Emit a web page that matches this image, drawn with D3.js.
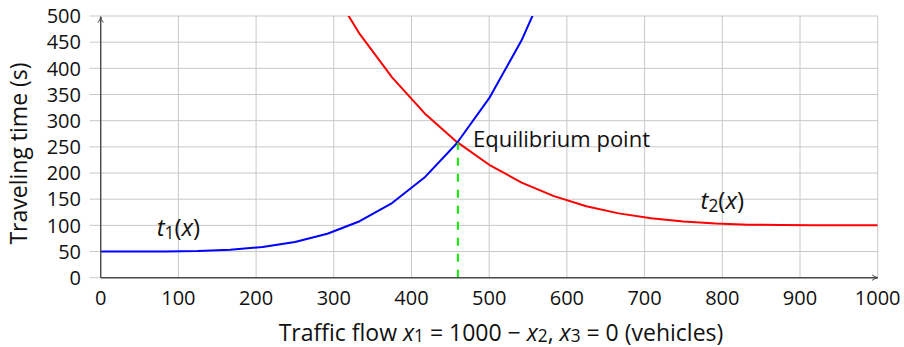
<!DOCTYPE html>
<html>
<head>
<meta charset="utf-8">
<script src="https://cdn.jsdelivr.net/npm/d3@7"></script>
<style>
  html, body { margin: 0; padding: 0; background: #fff; }
  svg { display: block; font-family: "Open Sans", "Lato", sans-serif; }
</style>
</head>
<body>
<svg id="chart" width="904" height="347"></svg>
<script>
// ---- data ----
const xSamples = [0, 41.7, 83.3, 125, 166.7, 208.3, 250, 291.7, 333.3, 375, 416.7, 458.3,
                  500, 541.7, 583.3, 625, 666.7, 708.3, 750, 791.7, 833.3, 875, 916.7, 958.3, 1000];
// t1(x): blue curve (values beyond the top of the plot are clipped)
const t1Values = [50, 50, 50.2, 51.1, 53.6, 58.8, 68.3, 83.9, 107.9, 142.7, 191.3, 256.9,
                  343, 453.5, 592.8, null, null, null, null, null, null, null, null, null, null];
// t2(x): red curve
const t2Values = [null, null, null, null, null, null, 685.9, 566.2, 465.8, 382.6, 314.4, 259.4,
                  215.7, 181.7, 155.8, 136.6, 122.9, 113.4, 107.2, 103.5, 101.4, 100.5, 100.1, 100, 100];
const equilibrium = { x: 459.7, y: 258 };
const xTicks = [0, 100, 200, 300, 400, 500, 600, 700, 800, 900, 1000];
const yTicks = [0, 50, 100, 150, 200, 250, 300, 350, 400, 450, 500];

// ---- layout ----
const svg = d3.select("#chart");
const pLeft = 100.7, pRight = 877.7, pTop = 16, pBottom = 277.7;
const x = d3.scaleLinear().domain([0, 1000]).range([pLeft, pRight]);
const y = d3.scaleLinear().domain([0, 500]).range([pBottom, pTop]);

const axisColor = "#4a4a4a";
const gridColor = "#c8c8c8";

const defs = svg.append("defs");
defs.append("clipPath").attr("id", "plotclip")
  .append("rect").attr("x", pLeft).attr("y", pTop).attr("width", pRight - pLeft).attr("height", pBottom - pTop);

defs.append("marker").attr("id", "arrow")
  .attr("viewBox", "0 0 10 10").attr("refX", 9).attr("refY", 5)
  .attr("markerWidth", 7).attr("markerHeight", 7).attr("markerUnits", "userSpaceOnUse")
  .attr("orient", "auto")
  .append("path").attr("d", "M1,1.2 Q5,4.2 9.5,5 Q5,5.8 1,8.8")
  .attr("fill", "none").attr("stroke", axisColor).attr("stroke-width", 1.4);

// grid
const gx = svg.append("g");
gx.selectAll("line.h").data(yTicks).join("line").attr("class", "h")
  .attr("x1", pLeft - 11).attr("x2", pRight)
  .attr("y1", d => y(d)).attr("y2", d => y(d))
  .attr("stroke", gridColor).attr("stroke-width", 1);
gx.selectAll("line.v").data(xTicks).join("line").attr("class", "v")
  .attr("x1", d => x(d)).attr("x2", d => x(d))
  .attr("y1", pTop).attr("y2", pBottom)
  .attr("stroke", gridColor).attr("stroke-width", 1);

// tick labels
svg.append("g").selectAll("text").data(yTicks).join("text")
  .attr("x", 81).attr("y", d => y(d)).attr("dy", "0.36em")
  .attr("text-anchor", "end").attr("font-size", 20).attr("fill", "#111")
  .text(d => d);
svg.append("g").selectAll("text").data(xTicks).join("text")
  .attr("x", d => x(d)).attr("y", 305)
  .attr("text-anchor", "middle").attr("font-size", 20).attr("fill", "#111")
  .text(d => d);

// curves
const plot = svg.append("g").attr("clip-path", "url(#plotclip)");
const lineGen = vals => d3.line()
  .defined((d, i) => vals[i] !== null)
  .x((d, i) => x(xSamples[i]))
  .y((d, i) => y(vals[i]))(xSamples);

svg.append("line")
  .attr("x1", x(equilibrium.x)).attr("x2", x(equilibrium.x))
  .attr("y1", y(0)).attr("y2", y(equilibrium.y))
  .attr("stroke", "#00f000").attr("stroke-width", 2)
  .attr("stroke-dasharray", "8,8");

plot.append("path").attr("d", lineGen(t2Values))
  .attr("fill", "none").attr("stroke", "#ff0000").attr("stroke-width", 2)
  .attr("stroke-linejoin", "round");
plot.append("path").attr("d", lineGen(t1Values))
  .attr("fill", "none").attr("stroke", "#0000ff").attr("stroke-width", 2)
  .attr("stroke-linejoin", "round");

// axes
svg.append("line").attr("x1", pLeft).attr("x2", pRight).attr("y1", pBottom).attr("y2", pBottom)
  .attr("stroke", axisColor).attr("stroke-width", 1.4).attr("marker-end", "url(#arrow)");
svg.append("line").attr("x1", pLeft).attr("x2", pLeft).attr("y1", pBottom).attr("y2", pTop + 1)
  .attr("stroke", axisColor).attr("stroke-width", 1.4).attr("marker-end", "url(#arrow)");

// curve labels
function mathLabel(g, sub) {
  g.append("tspan").attr("font-style", "italic").text("t");
  g.append("tspan").attr("font-size", "0.72em").attr("dy", "0.2em").text(sub);
  g.append("tspan").attr("dy", "-0.144em").text("(");
  g.append("tspan").attr("font-style", "italic").text("x");
  g.append("tspan").text(")");
}
const l1 = svg.append("text").attr("x", x(100)).attr("y", 236).attr("text-anchor", "middle")
  .attr("font-size", 24).attr("fill", "#111");
mathLabel(l1, "1");
const l2 = svg.append("text").attr("x", x(800)).attr("y", 209).attr("text-anchor", "middle")
  .attr("font-size", 24).attr("fill", "#111");
mathLabel(l2, "2");

svg.append("text").attr("x", 473).attr("y", 147).attr("font-size", 22).attr("fill", "#111")
  .text("Equilibrium point");

// axis titles
const xt = svg.append("text").attr("x", 501).attr("y", 340.5).attr("text-anchor", "middle")
  .attr("font-size", 23).attr("fill", "#111");
xt.append("tspan").text("Traffic flow ");
xt.append("tspan").attr("font-style", "italic").text("x");
xt.append("tspan").attr("font-size", "0.75em").attr("dy", "0.1em").text("1");
xt.append("tspan").attr("dy", "-0.075em").text(" = 1000 \u2212 ");
xt.append("tspan").attr("font-style", "italic").text("x");
xt.append("tspan").attr("font-size", "0.75em").attr("dy", "0.1em").text("2");
xt.append("tspan").attr("dy", "-0.075em").text(", ");
xt.append("tspan").attr("font-style", "italic").text("x");
xt.append("tspan").attr("font-size", "0.75em").attr("dy", "0.1em").text("3");
xt.append("tspan").attr("dy", "-0.075em").text(" = 0 (vehicles)");

svg.append("text").attr("transform", "translate(27,153.5) rotate(-90)")
  .attr("text-anchor", "middle").attr("font-size", 23).attr("fill", "#111")
  .text("Traveling time (s)");
</script>
</body>
</html>
